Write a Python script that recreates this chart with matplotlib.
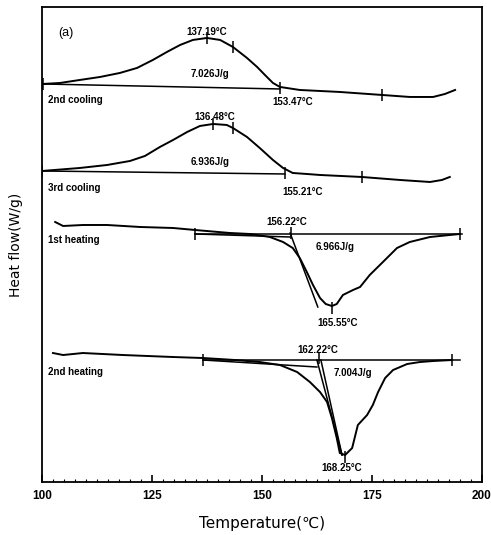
import numpy as np
import matplotlib.pyplot as plt
from matplotlib.ticker import MultipleLocator

# DATA (temperature in C, heat flow in arbitrary offset units)
cool2_T = [100.2, 104.1, 108.6, 113.2, 117.7, 121.6, 125.2, 128.4, 131.4, 134.3, 137.5,
           140.5, 143.4, 146.6, 148.9, 150.9, 152.5, 154.1, 158.6, 167.7, 177.3, 183.6,
           188.9, 191.6, 193.9]
cool2_hf = [3.98, 3.99, 4.02, 4.05, 4.09, 4.14, 4.22, 4.30, 4.37, 4.42, 4.44,
            4.42, 4.35, 4.24, 4.15, 4.06, 3.99, 3.95, 3.92, 3.90, 3.87, 3.85,
            3.85, 3.88, 3.92]

cool3_T = [100.0, 108.6, 114.8, 120.0, 123.4, 126.8, 129.8, 133.0, 135.9, 138.9, 142.0,
           143.4, 146.6, 149.5, 152.5, 154.8, 157.0, 160.2, 163.2, 172.7, 181.4, 188.2,
           190.9, 192.7]
cool3_hf = [3.11, 3.14, 3.17, 3.21, 3.26, 3.35, 3.42, 3.50, 3.56, 3.58, 3.57,
            3.54, 3.45, 3.34, 3.22, 3.14, 3.09, 3.08, 3.07, 3.05, 3.02, 3.00,
            3.02, 3.05]

heat1_T = [103.0, 104.8, 109.3, 114.8, 122.3, 129.8, 134.8, 142.7, 147.3, 151.8, 154.8,
           157.0, 158.6, 160.2, 161.6, 163.2, 164.5, 165.9, 167.0, 168.4, 170.7, 172.3,
           174.5, 177.5, 180.7, 183.6, 188.2, 192.7, 195.0]
heat1_hf = [2.60, 2.56, 2.57, 2.57, 2.55, 2.54, 2.52, 2.49, 2.48, 2.45, 2.40,
            2.34, 2.24, 2.10, 1.97, 1.84, 1.78, 1.76, 1.78, 1.87, 1.92, 1.95,
            2.07, 2.20, 2.34, 2.40, 2.45, 2.47, 2.48]

heat2_T = [102.5, 104.8, 109.3, 118.4, 129.8, 136.6, 143.9, 149.5, 154.1, 158.0, 160.9,
           163.2, 164.8, 165.9, 167.0, 167.7, 168.9, 170.5, 171.8, 173.9, 175.2, 176.4,
           178.0, 179.8, 183.0, 185.9, 188.9, 193.2]
heat2_hf = [1.29, 1.27, 1.29, 1.27, 1.25, 1.24, 1.22, 1.20, 1.17, 1.10, 1.00,
            0.90, 0.80, 0.64, 0.44, 0.29, 0.27, 0.34, 0.57, 0.67, 0.77, 0.90,
            1.04, 1.12, 1.18, 1.20, 1.21, 1.22]

# baselines / tangents: (T1, hf1, T2, hf2)
construction = [
    (100.0, 3.98, 154.1, 3.93),
    (100.0, 3.11, 155.2, 3.08),
    (134.8, 2.48, 195.5, 2.48),
    (134.8, 2.48, 156.4, 2.45),
    (156.4, 2.49, 162.7, 1.75),
    (136.6, 1.22, 195.0, 1.22),
    (136.6, 1.22, 162.5, 1.15),
    (162.5, 1.22, 168.2, 0.27),
    (163.4, 1.22, 168.2, 0.27),
]

# tick marks on curves: (T, hf)
marks = [(100.2, 3.98), (137.5, 4.44), (143.4, 4.35), (154.1, 3.94), (177.3, 3.87),
         (100.0, 3.11), (138.9, 3.58), (143.4, 3.54), (155.2, 3.09), (172.7, 3.05),
         (134.8, 2.48), (156.6, 2.49), (195.0, 2.48), (165.9, 1.74),
         (136.6, 1.22), (162.9, 1.24), (193.2, 1.22), (168.9, 0.25)]

labels = [
    ("137.19°C", 137.5, 4.50, "center"),
    ("7.026J/g", 138.2, 4.08, "center"),
    ("2nd cooling", 101.3, 3.82, "left"),
    ("153.47°C", 157.0, 3.80, "center"),
    ("136.48°C", 139.3, 3.65, "center"),
    ("6.936J/g", 138.2, 3.20, "center"),
    ("3rd cooling", 101.3, 2.94, "left"),
    ("155.21°C", 159.3, 2.90, "center"),
    ("156.22°C", 155.7, 2.60, "center"),
    ("6.966J/g", 166.6, 2.35, "center"),
    ("1st heating", 101.3, 2.42, "left"),
    ("165.55°C", 167.3, 1.59, "center"),
    ("162.22°C", 162.7, 1.32, "center"),
    ("7.004J/g", 170.7, 1.09, "center"),
    ("2nd heating", 101.3, 1.10, "left"),
    ("168.25°C", 168.2, 0.14, "center"),
]

fig = plt.figure(figsize=(4.91, 5.35), dpi=100)
ax = fig.add_axes([0.0855, 0.099, 0.896, 0.888])

for T, hf in [(cool2_T, cool2_hf), (cool3_T, cool3_hf), (heat1_T, heat1_hf), (heat2_T, heat2_hf)]:
    ax.plot(T, hf, color="black", lw=1.4, solid_joinstyle="round")

for t1, h1, t2, h2 in construction:
    ax.plot([t1, t2], [h1, h2], color="black", lw=1.1)

mT, mh = zip(*marks)
ax.plot(mT, mh, ls="none", marker="|", ms=8, mew=1.1, color="black")

ax.text(105.5, 4.49, "(a)", ha="center", va="center", fontsize=9, family="Liberation Sans")
for txt, x, y, ha in labels:
    ax.text(x, y, txt, ha=ha, va="center", fontsize=7, fontweight="bold",
            family="Liberation Sans")

ax.set_xlim(100, 200)
ax.set_ylim(0, 4.75)
ax.set_xticks([100, 125, 150, 175, 200])
ax.xaxis.set_minor_locator(MultipleLocator(2.5))
ax.tick_params(axis="x", which="major", direction="in", length=5, width=1.2,
               labelsize=8.5, pad=6)
ax.tick_params(axis="x", which="minor", direction="in", length=2, width=0.8)
for lab in ax.get_xticklabels():
    lab.set_fontweight("bold")
    lab.set_family("Liberation Sans")
ax.set_yticks([])
for s in ax.spines.values():
    s.set_linewidth(1.3)

ax.set_xlabel("Temperature(℃)", fontsize=11, labelpad=10)
ax.set_ylabel("Heat flow(W/g)", fontsize=10, labelpad=14)

fig.savefig("out.png", dpi=100)
